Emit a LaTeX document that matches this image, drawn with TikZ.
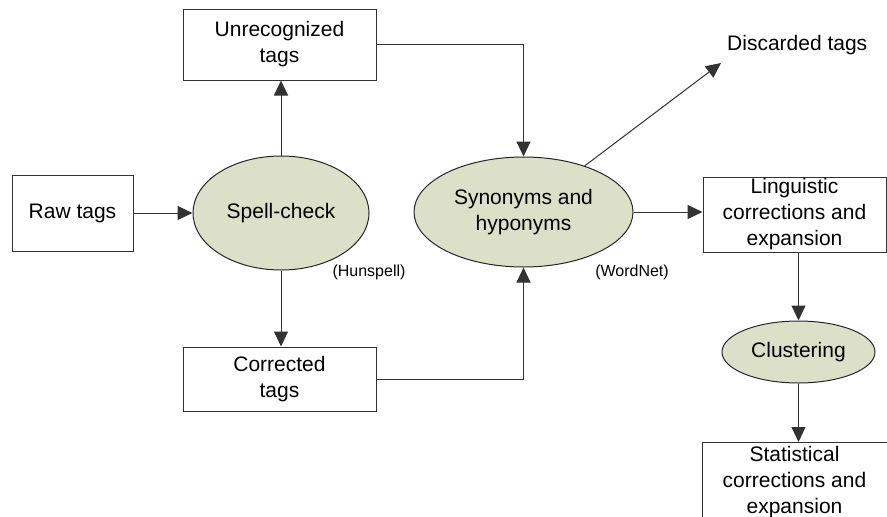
\documentclass[tikz,border=0pt]{standalone}
\usepackage{fontspec}
\setmainfont{Liberation Sans}
\usetikzlibrary{shapes.geometric,arrows.meta}
\definecolor{ellfill}{RGB}{221,224,201}
\definecolor{linecol}{RGB}{50,50,50}
\begin{document}
\begin{tikzpicture}[x=1pt,y=-1pt,
  every node/.style={font=\fontsize{21}{26}\selectfont, align=center, inner sep=0pt},
  boxnode/.style={draw=linecol, line width=1pt, rectangle},
  ellnode/.style={draw=black!85, line width=1pt, ellipse, fill=ellfill},
  lbl/.style={font=\fontsize{16}{19}\selectfont},
  conn/.style={draw=linecol, line width=1pt},
  arr/.style={conn, -{Triangle[length=15pt,width=14pt]}}]
\clip (0,0) rectangle (887,517);
\useasboundingbox (0,0) rectangle (887,517);
% nodes
\node[boxnode, minimum width=121, minimum height=76] (raw) at (72.5,213) {Raw tags};
\node[ellnode, minimum width=176, minimum height=114] (spell) at (281,213) {Spell-check};
\node[boxnode, minimum width=193, minimum height=71] (unrec) at (279.5,44.5) {Unrecognized\\tags};
\node[boxnode, minimum width=193, minimum height=64] (corr) at (279.5,379) {Corrected\\tags};
\node[ellnode, minimum width=219, minimum height=110] (syn) at (523.5,212) {Synonyms and\\hyponyms};
\node[boxnode, minimum width=183, minimum height=75] (ling) at (794.5,214.5) {Linguistic\\corrections and\\expansion};
\node[ellnode, minimum width=153, minimum height=62] (clust) at (798.5,352) {Clustering};
\node[boxnode, minimum width=185, minimum height=80, anchor=north] (stat) at (794.5,442) {Statistical\\corrections and\\expansion};
\node[anchor=west] (disc) at (727,45) {Discarded tags};
\coordinate (dtip) at (721,63);
\node[lbl] (hun) at (369,272) {(Hunspell)};
\node[lbl] (wn) at (632,272) {(WordNet)};
% connectors
\draw[arr] (raw.east) -- (spell.west);
\draw[arr] (spell.north) -- (unrec.south -| spell.north);
\draw[arr] (spell.south) -- (corr.north -| spell.south);
\draw[arr] (unrec.east) -| (syn.north);
\draw[arr] (corr.east) -| (syn.south);
\draw[arr] (syn.37) -- (dtip);
\draw[arr] (syn.east) -- (ling.west |- syn.east);
\draw[arr] (ling.south -| clust.north) -- (clust.north);
\draw[arr] (clust.south) -- (stat.north -| clust.south);
\end{tikzpicture}
\end{document}
